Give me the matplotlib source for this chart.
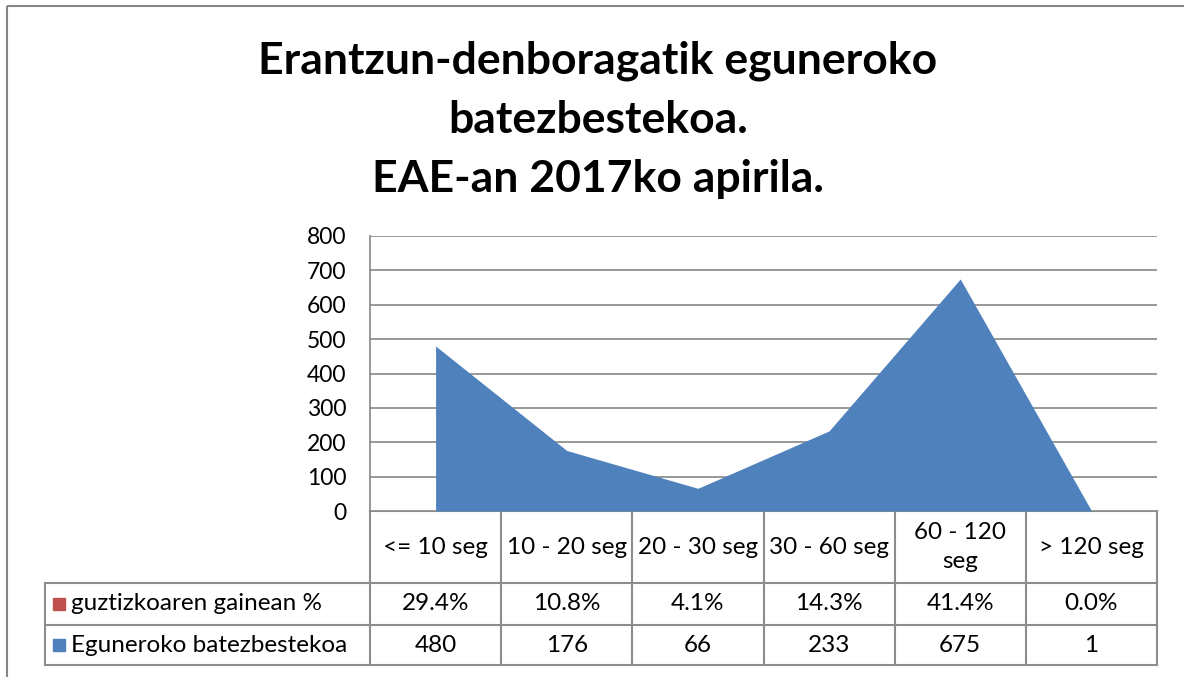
import matplotlib.pyplot as plt
from matplotlib.patches import Rectangle

# datuak
kategoriak = ["<= 10 seg", "10 - 20 seg", "20 - 30 seg", "30 - 60 seg", "60 - 120\nseg", "> 120 seg"]
batezbestekoa = [480, 176, 66, 233, 675, 1]
ehunekoa = ["29.4%", "10.8%", "4.1%", "14.3%", "41.4%", "0.0%"]
serie_izenak = ["guztizkoaren gainean %", "Eguneroko batezbestekoa"]
serie_koloreak = ["#C0504D", "#4F81BD"]
izenburua = "Erantzun-denboragatik eguneroko\nbatezbestekoa.\nEAE-an 2017ko apirila."

plt.rcParams['font.family'] = ['Lato', 'DejaVu Sans']

W, H = 1184, 677
fig = plt.figure(figsize=(W / 100, H / 100), dpi=100)

# kanpoko markoa eta marrazteko geruza (pixeletan)
bg = fig.add_axes([0, 0, 1, 1])
bg.set_xlim(0, W)
bg.set_ylim(H, 0)
bg.axis('off')
bg.add_patch(Rectangle((7, 6), W, H, fill=False, edgecolor='#868686', lw=1.5))

# grafikoaren eremua
x0, x1, ytop, ybot = 370, 1157, 236, 511
ax = fig.add_axes([x0 / W, 1 - ybot / H, (x1 - x0) / W, (ybot - ytop) / H])
n = len(kategoriak)
xs = list(range(n))
ax.fill_between(xs, batezbestekoa, 0, color=serie_koloreak[1], lw=0, zorder=3)
ax.set_xlim(-0.5, n - 0.5)
ax.set_ylim(0, 800)
ax.set_yticks(range(0, 801, 100))
ax.tick_params(axis='y', length=0, pad=17, labelsize=16.5)
ax.set_xticks([])
ax.grid(axis='y', color='#868686', lw=1.2, zorder=1)
for s in ['top', 'right', 'bottom']:
    ax.spines[s].set_visible(False)
ax.spines['left'].set_color('#868686')
ax.spines['left'].set_linewidth(1.2)

fig.text(598 / W, 1 - 120 / H, izenburua, ha='center', va='center',
         fontsize=32, fontweight='bold', linespacing=1.58)

# datu-taula
cw = (x1 - x0) / n
r0, r1, r2, r3 = 511, 583, 625, 665
lx = 45
lc = '#8c8c8c'
lw = 1.5
fs = 17.5
bg.plot([x0, x1], [r0, r0], color=lc, lw=lw)
bg.plot([lx, x1], [r1, r1], color=lc, lw=lw)
bg.plot([lx, x1], [r2, r2], color=lc, lw=lw)
bg.plot([lx, x1], [r3, r3], color=lc, lw=lw)
bg.plot([lx, lx], [r1, r3], color=lc, lw=lw)
for i in range(n + 1):
    bg.plot([x0 + i * cw, x0 + i * cw], [r0, r3], color=lc, lw=lw)

for i, kat in enumerate(kategoriak):
    cx = x0 + (i + 0.5) * cw
    bg.text(cx, (r0 + r1) / 2, kat, ha='center', va='center', fontsize=fs, linespacing=1.45)
    bg.text(cx, (r1 + r2) / 2, ehunekoa[i], ha='center', va='center', fontsize=fs)
    bg.text(cx, (r2 + r3) / 2, str(batezbestekoa[i]), ha='center', va='center', fontsize=fs)

for j, (izena, kol) in enumerate(zip(serie_izenak, serie_koloreak)):
    yc = [(r1 + r2) / 2, (r2 + r3) / 2][j]
    bg.add_patch(Rectangle((53, yc - 6), 12, 12, color=kol))
    bg.text(71, yc, izena, ha='left', va='center', fontsize=fs)

fig.savefig("out.png", dpi=100)
